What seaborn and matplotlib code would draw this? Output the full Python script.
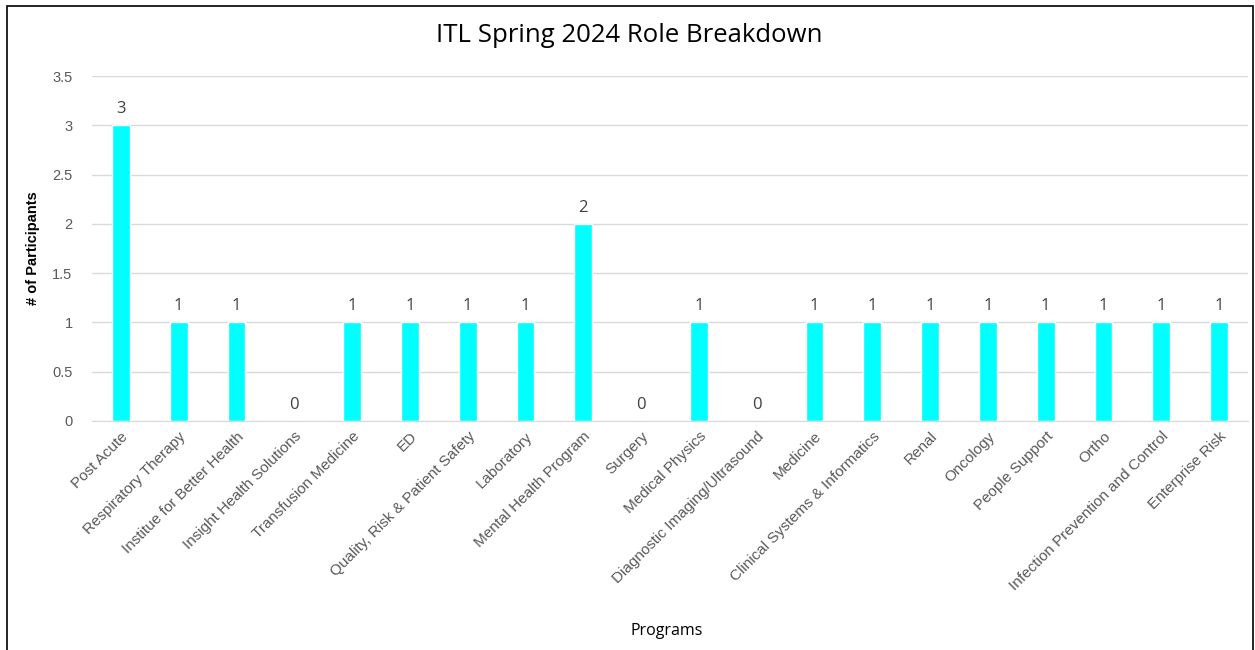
import matplotlib
matplotlib.use("Agg")
import matplotlib.pyplot as plt
import seaborn as sns
import pandas as pd
from matplotlib.patches import Rectangle

programs = ["Post Acute", "Respiratory Therapy", "Institue for Better Health",
            "Insight Health Solutions", "Transfusion Medicine", "ED",
            "Quality, Risk & Patient Safety", "Laboratory", "Mental Health Program",
            "Surgery", "Medical Physics", "Diagnostic Imaging/Ultrasound", "Medicine",
            "Clinical Systems & Informatics", "Renal", "Oncology", "People Support",
            "Ortho", "Infection Prevention and Control", "Enterprise Risk"]
participants = [3, 1, 1, 0, 1, 1, 1, 1, 2, 0, 1, 0, 1, 1, 1, 1, 1, 1, 1, 1]
y_ticks = [0, 0.5, 1, 1.5, 2, 2.5, 3, 3.5]
y_tick_labels = ["0", "0.5", "1", "1.5", "2", "2.5", "3", "3.5"]

df = pd.DataFrame({"Program": programs, "Participants": participants})

sns.set_style("white")
plt.rcParams['font.family'] = ['Liberation Sans', 'DejaVu Sans']

fig = plt.figure(figsize=(12.55, 6.5), dpi=100)
ax = fig.add_axes([92/1255, 1-421/650, (1248-92)/1255, (421-76)/650])

sns.barplot(data=df, x="Program", y="Participants", color="#00FFFF",
            saturation=1, width=0.31, ax=ax)

ax.set_ylim(0, 3.5)
ax.set_xlim(-0.5, len(programs)-0.5)
ax.set_yticks(y_ticks)
ax.set_yticklabels(y_tick_labels, fontsize=10.5, color="#595959")
ax.yaxis.grid(True, color="#D9D9D9", linewidth=1)
ax.set_axisbelow(True)
for s in ["top", "right", "left"]:
    ax.spines[s].set_visible(False)
ax.spines["bottom"].set_color("#D9D9D9")
ax.tick_params(axis="y", length=0, pad=14)
ax.tick_params(axis="x", length=0, pad=6)
ax.set_xticks(range(len(programs)))
ax.set_xticklabels(programs, rotation=45, ha="right", rotation_mode="anchor",
                   fontsize=11, color="#595959")

for c in ax.containers:
    ax.bar_label(c, labels=[str(v) for v in participants], padding=6,
                 fontsize=12, color="#404040", family=["Open Sans", "DejaVu Sans"])

ax.set_xlabel("Programs", fontsize=11.5, color="black",
              family=["Open Sans", "DejaVu Sans"])
ax.xaxis.set_label_coords((667-92)/(1248-92), -(623-421)/(421-76))
ax.set_ylabel("# of Participants", fontsize=10.5, fontweight="bold", color="black")
ax.yaxis.set_label_coords(-(92-40)/(1248-92), 0.5)

fig.text(629/1255, 1-35/650, "ITL Spring 2024 Role Breakdown", ha="center",
         va="center", fontsize=18.5, color="black",
         family=["Open Sans", "DejaVu Sans"])

fig.patches.append(Rectangle((7/1255, -0.01), (1253-7)/1255, 1-6/650+0.01,
                             transform=fig.transFigure, fill=False,
                             edgecolor="black", linewidth=1.2))

fig.savefig("out.png", dpi=100)
